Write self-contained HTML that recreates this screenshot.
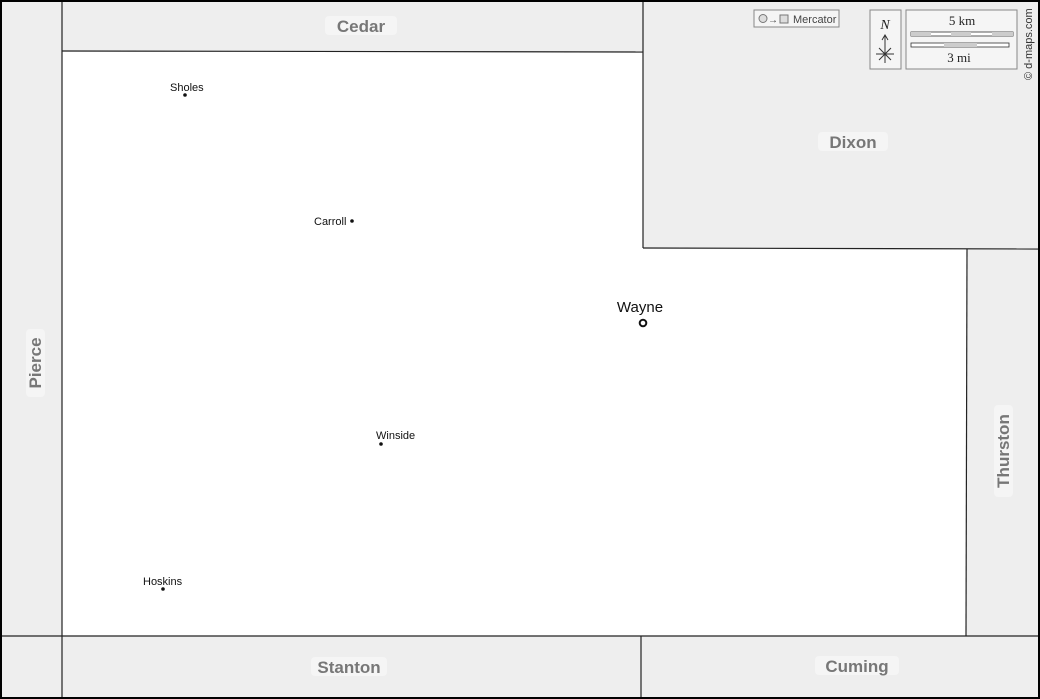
<!DOCTYPE html>
<html><head><meta charset="utf-8"><style>
html,body{margin:0;padding:0;background:#fff}
svg{display:block}
.c{font-family:"Liberation Sans",sans-serif;font-weight:bold;font-size:17px;fill:#777}
.t{font-family:"Liberation Sans",sans-serif;font-size:11px;fill:#111}
</style></head><body>
<svg width="1040" height="699" viewBox="0 0 1040 699" xmlns="http://www.w3.org/2000/svg">
<rect x="0" y="0" width="1040" height="699" fill="#eeeeee"/>
<polygon points="62,51 643,52 643,248 967,249 966,636 62,636" fill="#fff"/>
<g stroke="#222" stroke-width="1.2" fill="none">
<line x1="62" y1="0" x2="62" y2="699"/>
<line x1="0" y1="636" x2="1040" y2="636"/>
<line x1="62" y1="51" x2="643" y2="52"/>
<line x1="643" y1="0" x2="643" y2="248"/>
<line x1="643" y1="248" x2="1040" y2="249"/>
<line x1="967" y1="249" x2="966" y2="636"/>
<line x1="641" y1="636" x2="641" y2="699"/>
</g>
<rect x="1" y="1" width="1038" height="697" fill="none" stroke="#000" stroke-width="2"/>
<!-- county labels -->
<rect x="325" y="16" width="72" height="19" rx="4" fill="#f5f5f5"/>
<text class="c" x="361" y="32" text-anchor="middle">Cedar</text>
<rect x="818" y="132" width="70" height="19" rx="4" fill="#f5f5f5"/>
<text class="c" x="853" y="148" text-anchor="middle">Dixon</text>
<rect x="311" y="657" width="76" height="19" rx="4" fill="#f5f5f5"/>
<text class="c" x="349" y="673" text-anchor="middle">Stanton</text>
<rect x="815" y="656" width="84" height="19" rx="4" fill="#f5f5f5"/>
<text class="c" x="857" y="672" text-anchor="middle">Cuming</text>
<g transform="translate(40,363) rotate(-90)">
<rect x="-34" y="-14" width="68" height="19" rx="4" fill="#f5f5f5"/>
<text class="c" x="0" y="1" text-anchor="middle">Pierce</text></g>
<g transform="translate(1008,451) rotate(-90)">
<rect x="-46" y="-14" width="92" height="19" rx="4" fill="#f5f5f5"/>
<text class="c" x="0" y="1" text-anchor="middle">Thurston</text></g>
<!-- towns -->
<text class="t" x="170" y="91">Sholes</text><circle cx="185" cy="95" r="1.8" fill="#111"/>
<text class="t" x="314" y="225">Carroll</text><circle cx="352" cy="221" r="1.8" fill="#111"/>
<text class="t" x="376" y="439">Winside</text><circle cx="381" cy="444" r="1.8" fill="#111"/>
<text class="t" x="143" y="585">Hoskins</text><circle cx="163" cy="589" r="1.8" fill="#111"/>
<text x="640" y="312" text-anchor="middle" style="font-family:'Liberation Sans',sans-serif;font-size:15px;fill:#111">Wayne</text>
<circle cx="643" cy="323" r="3.3" fill="#fff" stroke="#111" stroke-width="2"/>
<!-- legend -->
<rect x="754" y="10" width="85" height="17" fill="#f5f5f5" stroke="#888"/>
<circle cx="763" cy="18.5" r="4" fill="#ddd" stroke="#777"/>
<text x="768" y="23" style="font-family:'Liberation Sans',sans-serif;font-size:10px;fill:#444">→</text>
<rect x="780" y="15" width="8" height="8" fill="#ddd" stroke="#777"/>
<text x="793" y="23" style="font-family:'Liberation Sans',sans-serif;font-size:11px;fill:#444">Mercator</text>
<rect x="870" y="10" width="31" height="59" fill="#f5f5f5" stroke="#888"/>
<text x="885" y="29" text-anchor="middle" style="font-family:'Liberation Serif',serif;font-style:italic;font-size:14px;fill:#222">N</text>
<line x1="885" y1="36" x2="885" y2="63" stroke="#333"/>
<path d="M882,40 L885,35 L888,40" fill="none" stroke="#333"/>
<line x1="876" y1="54" x2="894" y2="54" stroke="#333"/>
<line x1="879" y1="48" x2="891" y2="60" stroke="#333"/>
<line x1="891" y1="48" x2="879" y2="60" stroke="#333"/>
<rect x="906" y="10" width="111" height="59" fill="#f5f5f5" stroke="#888"/>
<text x="962" y="25" text-anchor="middle" style="font-family:'Liberation Serif',serif;font-size:13px;fill:#222">5 km</text>
<rect x="911" y="32" width="102" height="4" fill="#fff" stroke="#333" stroke-width="0.8"/>
<rect x="911" y="32" width="20" height="4" fill="#ccc"/><rect x="951" y="32" width="20" height="4" fill="#ccc"/><rect x="992" y="32" width="21" height="4" fill="#ccc"/>
<rect x="911" y="43" width="98" height="4" fill="#fff" stroke="#333" stroke-width="0.8"/>
<rect x="944" y="43" width="33" height="4" fill="#ccc"/>
<text x="959" y="62" text-anchor="middle" style="font-family:'Liberation Serif',serif;font-size:13px;fill:#222">3 mi</text>
<text transform="translate(1032,80) rotate(-90)" style="font-family:'Liberation Sans',sans-serif;font-size:11px;fill:#333">© d-maps.com</text>
</svg>
</body></html>
